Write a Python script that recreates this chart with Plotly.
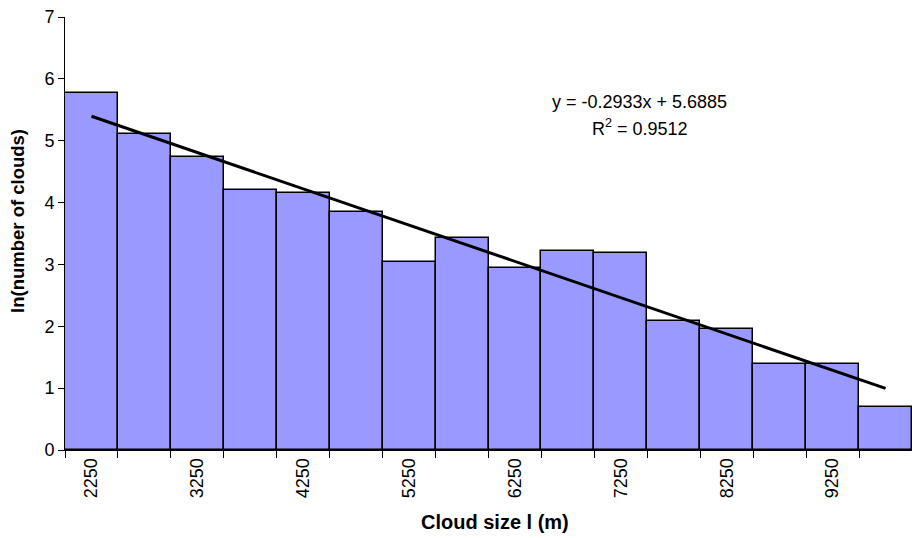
import plotly.graph_objects as go

categories = [2250, 2750, 3250, 3750, 4250, 4750, 5250, 5750,
              6250, 6750, 7250, 7750, 8250, 8750, 9250, 9750]
ln_counts = [5.77, 5.11, 4.73, 4.20, 4.16, 3.85, 3.04, 3.43,
             2.94, 3.22, 3.18, 2.08, 1.95, 1.39, 1.39, 0.69]
trend_slope = -0.2933
trend_intercept = 5.6885
r_squared = 0.9512
y_ticks = [0, 1, 2, 3, 4, 5, 6, 7]

idx = list(range(1, len(categories) + 1))
label_idx = idx[::2]
label_text = [str(categories[i - 1]) for i in label_idx]

trend_x = [idx[0], idx[-1]]
trend_y = [trend_slope * x + trend_intercept for x in trend_x]

font = "Liberation Sans, Arial, sans-serif"

fig = go.Figure()
fig.add_trace(go.Bar(
    x=idx, y=ln_counts, width=1,
    marker=dict(color="#9999FF", line=dict(color="black", width=1.5)),
    showlegend=False,
))
fig.add_trace(go.Scatter(
    x=trend_x, y=trend_y, mode="lines",
    line=dict(color="black", width=3), showlegend=False,
))

fig.add_annotation(
    x=11.36, y=5.63, xref="x", yref="y", showarrow=False,
    text=f"y = {trend_slope}x + {trend_intercept}",
    font=dict(family=font, size=18, color="black"),
)
fig.add_annotation(
    x=11.36, y=5.21, xref="x", yref="y", showarrow=False,
    text=f"R<sup>2</sup> = {r_squared}",
    font=dict(family=font, size=18, color="black"),
)
# axis titles
fig.add_annotation(
    x=0.508, y=-0.166, xref="paper", yref="paper", showarrow=False,
    xanchor="center", yanchor="middle",
    text="<b>Cloud size l (m)</b>", font=dict(family=font, size=20, color="black"),
)
fig.add_annotation(
    x=-0.0555, y=0.529, xref="paper", yref="paper", showarrow=False,
    xanchor="center", yanchor="middle", textangle=-90,
    text="<b>ln(number of clouds)</b>", font=dict(family=font, size=18.5, color="black"),
)

fig.update_layout(
    width=912, height=538,
    margin=dict(l=65, r=0, t=17, b=88),
    paper_bgcolor="white", plot_bgcolor="white",
    font=dict(family=font, color="black"),
    bargap=0,
)
fig.update_xaxes(
    range=[0.5, len(categories) + 0.5],
    tickmode="array", tickvals=label_idx, ticktext=label_text,
    tickangle=-90, ticks="", showgrid=False, zeroline=False,
    showline=True, linecolor="black", linewidth=1,
    tickfont=dict(family=font, size=18),
    minor=dict(tick0=0.5, dtick=1, ticks="outside", ticklen=7,
               tickcolor="black", tickwidth=1, showgrid=False),
)
fig.update_yaxes(
    range=[0, 7], tickmode="array", tickvals=y_ticks,
    ticks="outside", ticklen=6, tickcolor="black", tickwidth=1,
    showgrid=False, zeroline=False,
    showline=True, linecolor="black", linewidth=1,
    tickfont=dict(family=font, size=18),
)

fig.write_html("out.html")
